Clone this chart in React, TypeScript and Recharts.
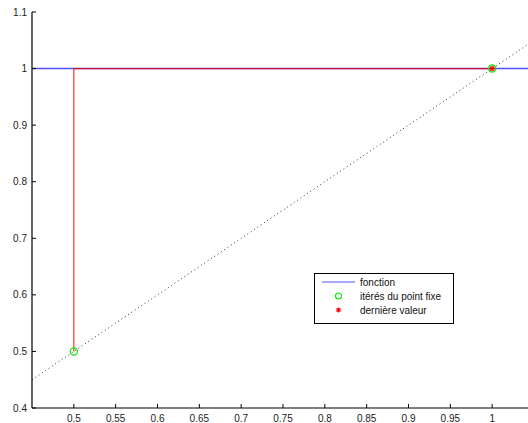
import React from 'react';
import { ComposedChart, Line, XAxis, YAxis } from 'recharts';

const xTicks = [0.5, 0.55, 0.6, 0.65, 0.7, 0.75, 0.8, 0.85, 0.9, 0.95, 1];
const yTicks = [0.4, 0.5, 0.6, 0.7, 0.8, 0.9, 1, 1.1];

const fonctionX = [0.45, 1.05];
const fonctionY = [1, 1];
const diagX = [0.45, 1.05];
const diagY = [0.45, 1.05];
const cobwebX = [0.5, 0.5, 1];
const cobwebY = [0.5, 1, 1];
const iteresX = [0.5, 1];
const iteresY = [0.5, 1];
const derniereX = [1];
const derniereY = [1];

const legendLabels = ['fonction', 'itérés du point fixe', 'dernière valeur'];

const zip = (xs: number[], ys: number[]) => xs.map((x, i) => ({ x, y: ys[i] }));

const fonctionData = zip(fonctionX, fonctionY);
const diagData = zip(diagX, diagY);
const cobwebData = zip(cobwebX, cobwebY);
const iteresData = zip(iteresX, iteresY);
const derniereData = zip(derniereX, derniereY);

const FONT = '"Liberation Sans", Arial, Helvetica, sans-serif';
const fmt = (v: number) => String(Number(v.toFixed(2)));

const XTick = (props: any) => {
  const { x, y, payload } = props;
  return (
    <g>
      <line x1={x} x2={x} y1={y} y2={y - 4} stroke="#000" strokeWidth={1} />
      <text x={x} y={y + 14} textAnchor="middle" fontFamily={FONT} fontSize={10} fill="#222">
        {fmt(payload.value)}
      </text>
    </g>
  );
};

const YTick = (props: any) => {
  const { x, y, payload } = props;
  return (
    <g>
      <line x1={x} x2={x + 4} y1={y} y2={y} stroke="#000" strokeWidth={1} />
      <text x={x - 5} y={y + 3.5} textAnchor="end" fontFamily={FONT} fontSize={10} fill="#222">
        {fmt(payload.value)}
      </text>
    </g>
  );
};

const Circle = (props: any) => {
  const { cx, cy } = props;
  if (cx == null || cy == null) return null;
  return <circle key={`c-${cx}-${cy}`} cx={cx} cy={cy} r={3.6} fill="none" stroke="#00ee00" strokeWidth={1.2} />;
};

const Star = (props: any) => {
  const { cx, cy } = props;
  if (cx == null || cy == null) return null;
  const s = 2.8;
  const d = s * 0.75;
  return (
    <g key={`s-${cx}-${cy}`} stroke="#ff0000" strokeWidth={1.2}>
      <line x1={cx - s} x2={cx + s} y1={cy} y2={cy} />
      <line x1={cx} x2={cx} y1={cy - s} y2={cy + s} />
      <line x1={cx - d} x2={cx + d} y1={cy - d} y2={cy + d} />
      <line x1={cx - d} x2={cx + d} y1={cy + d} y2={cy - d} />
    </g>
  );
};

const LegendBox = () => (
  <div
    style={{
      position: 'absolute',
      left: 314,
      top: 273,
      width: 138,
      height: 49,
      border: '1px solid #000',
      background: '#fff',
    }}
  >
    <svg width={138} height={49} style={{ position: 'absolute', left: 0, top: 0 }}>
      <line x1={7} x2={40} y1={8} y2={8} stroke="#5555ff" strokeWidth={1.2} />
      <circle cx={23.5} cy={22} r={3} fill="none" stroke="#00ee00" strokeWidth={1.1} />
      <g stroke="#ff0000" strokeWidth={1.1}>
        <line x1={21} x2={26} y1={36} y2={36} />
        <line x1={23.5} x2={23.5} y1={33.5} y2={38.5} />
        <line x1={21.7} x2={25.3} y1={34.2} y2={37.8} />
        <line x1={21.7} x2={25.3} y1={37.8} y2={34.2} />
      </g>
      {legendLabels.map((t, i) => (
        <text key={t} x={45} y={11.5 + i * 14} fontFamily={FONT} fontSize={10} fill="#111">
          {t}
        </text>
      ))}
    </svg>
  </div>
);

export default function App() {
  return (
    <>
      <style>{'html,body{margin:0;padding:0;overflow:hidden;background:#fff}'}</style>
      <div style={{ position: 'relative', width: 528, height: 423, overflow: 'hidden', background: '#fff' }}>
        <ComposedChart
          width={528}
          height={423}
          margin={{ top: 12, right: -6, bottom: 0, left: 0 }}
          style={{ fontFamily: FONT }}
        >
          <XAxis
            type="number"
            dataKey="x"
            domain={[0.45, 1.05]}
            ticks={xTicks}
            allowDataOverflow
            interval={0}
            height={15}
            tickSize={0}
            tickMargin={0}
            tickLine={false}
            tick={<XTick />}
            axisLine={{ stroke: '#000', strokeWidth: 1.2 }}
          />
          <YAxis
            type="number"
            dataKey="y"
            domain={[0.4, 1.1]}
            ticks={yTicks}
            allowDataOverflow
            interval={0}
            width={32}
            tickSize={0}
            tickMargin={0}
            tickLine={false}
            tick={<YTick />}
            axisLine={{ stroke: '#000', strokeWidth: 1.2 }}
          />
          <Line
            data={diagData}
            dataKey="y"
            type="linear"
            stroke="#333"
            strokeWidth={1}
            strokeDasharray="1 3"
            dot={false}
            isAnimationActive={false}
          />
          <Line
            data={fonctionData}
            dataKey="y"
            type="linear"
            stroke="#3333ff"
            strokeWidth={1.5}
            strokeOpacity={0.85}
            dot={false}
            isAnimationActive={false}
            name={legendLabels[0]}
          />
          <Line
            data={cobwebData}
            dataKey="y"
            type="linear"
            stroke="#ee0000"
            strokeWidth={1.2}
            strokeOpacity={0.8}
            dot={false}
            isAnimationActive={false}
          />
          <Line
            data={iteresData}
            dataKey="y"
            type="linear"
            stroke="none"
            dot={<Circle />}
            isAnimationActive={false}
            name={legendLabels[1]}
          />
          <Line
            data={derniereData}
            dataKey="y"
            type="linear"
            stroke="none"
            dot={<Star />}
            isAnimationActive={false}
            name={legendLabels[2]}
          />
        </ComposedChart>
        <LegendBox />
      </div>
    </>
  );
}
